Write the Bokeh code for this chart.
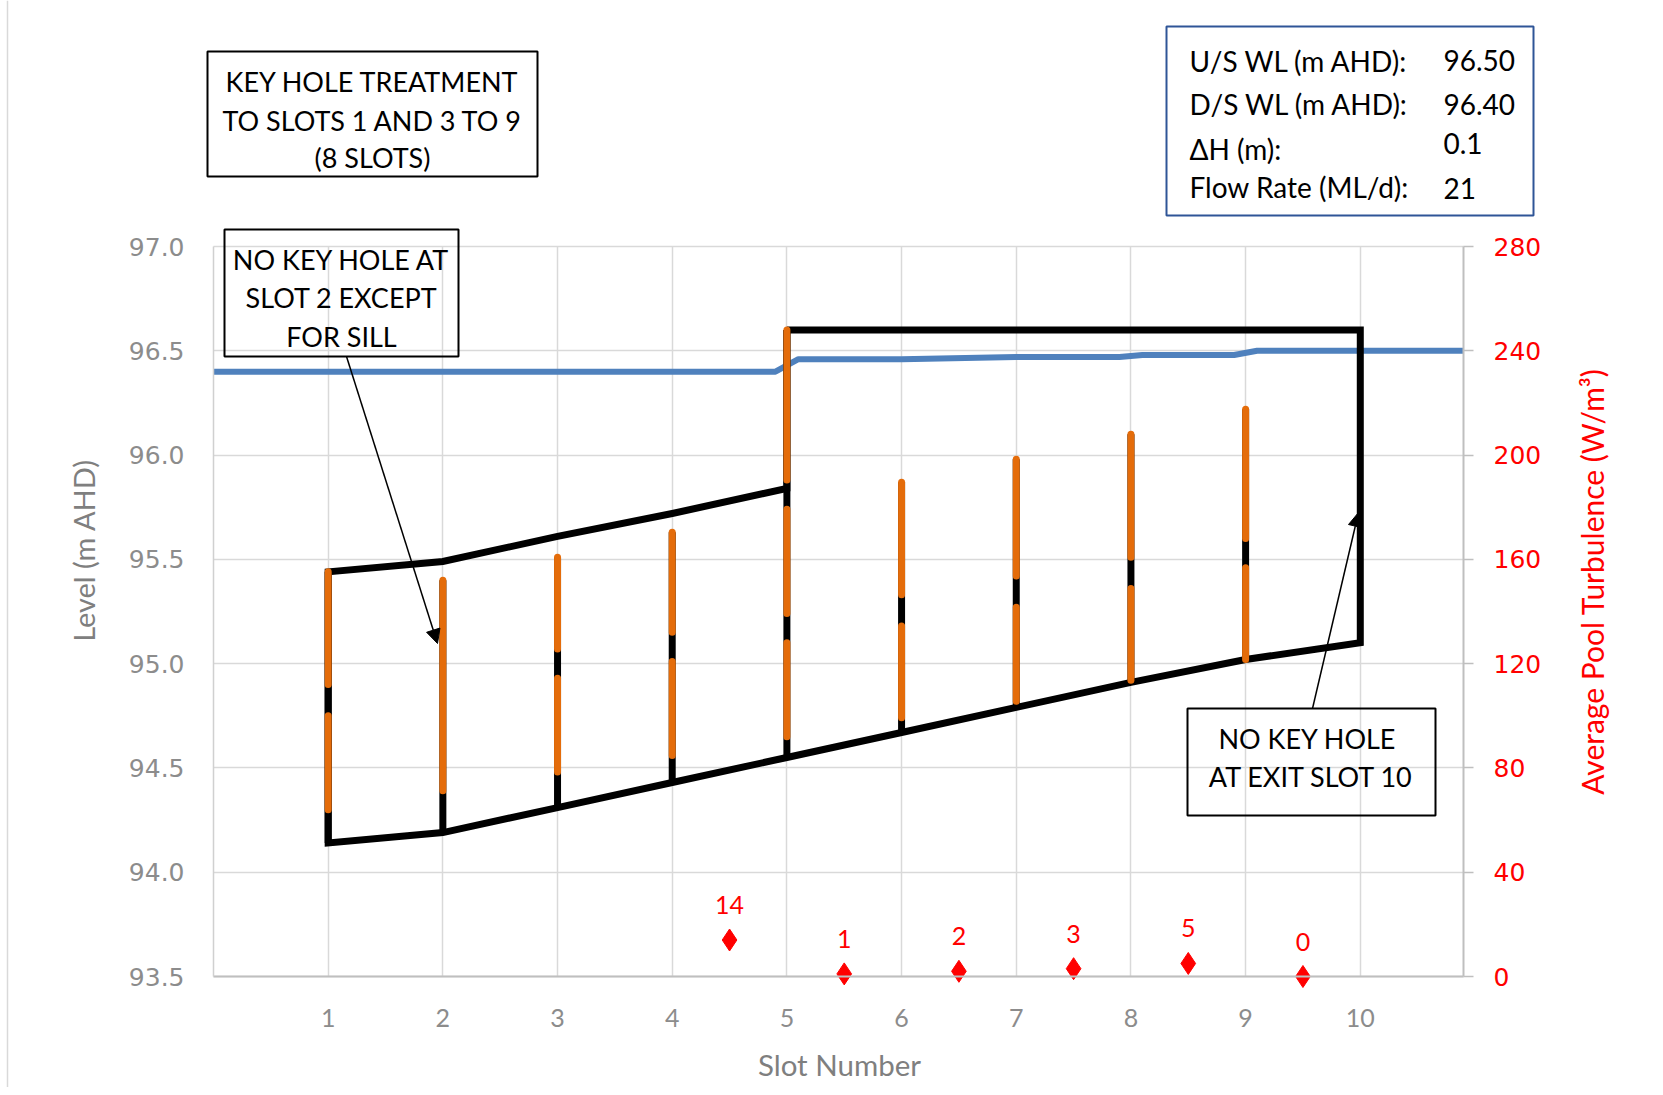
from bokeh.plotting import figure
from bokeh.models import (Range1d, LinearAxis, FixedTicker, NumeralTickFormatter,
                          Label, BoxAnnotation, Arrow, NormalHead, Span)
from bokeh.core.properties import value
from bokeh.embed import file_html
from bokeh.resources import INLINE

# ---------------- data ----------------
slots = [1, 2, 3, 4, 5, 6, 7, 8, 9, 10]
slot_tick_labels = ["1", "2", "3", "4", "5", "6", "7", "8", "9", "10"]
floor_level = [94.14, 94.19, 94.31, 94.43, 94.55, 94.67, 94.79, 94.91, 95.02, 95.10]
crest_x = [1, 2, 3, 4, 5]
crest_level = [95.44, 95.49, 95.61, 95.72, 95.84]
wall_x = [5, 10]
wall_top = [96.60, 96.60]

# orange slot segments (slot, bottom level, top level)
seg_slot = [1, 1, 2, 3, 3, 4, 4, 5, 5, 5, 6, 6, 7, 7, 8, 8, 9, 9]
seg_bottom = [94.30, 94.90, 94.39, 94.48, 95.07, 94.56, 95.15, 94.65, 95.24, 95.88,
              94.74, 95.33, 94.82, 95.42, 94.92, 95.51, 95.02, 95.60]
seg_top = [94.75, 95.44, 95.40, 94.93, 95.51, 95.01, 95.63, 95.10, 95.74, 96.60,
           95.18, 95.87, 95.27, 95.98, 95.36, 96.10, 95.46, 96.22]

# water surface level
wl_x = [0, 4.9, 5.1, 6.0, 7.0, 7.9, 8.1, 8.9, 9.1, 10.9]
wl_level = [96.40, 96.40, 96.46, 96.46, 96.47, 96.47, 96.48, 96.48, 96.50, 96.50]

# average pool turbulence
pool_x = [4.5, 5.5, 6.5, 7.5, 8.5, 9.5]
pool_turb = [14, 1, 2, 3, 5, 0]

level_ticks = [93.5, 94.0, 94.5, 95.0, 95.5, 96.0, 96.5, 97.0]
turb_ticks = [0, 40, 80, 120, 160, 200, 240, 280]

# ---------------- layout constants (pixels) ----------------
W, H = 1655, 1087            # canvas
PL, PR, PT, PB = 213, 1463, 246, 976   # plot area edges
X0, X1, Y0, Y1 = 0, 10.9, 93.5, 97.0
T0, T1 = 0, 280
SX = (PR - PL) / (X1 - X0)
SY = (PB - PT) / (Y1 - Y0)
ST = (PB - PT) / (T1 - T0)


def dx(px):
    return X0 + (px - PL) / SX


def dy(py):
    return Y0 + (PB - py) / SY


GRAY = "#8c8c8c"
RED = "#ff0000"
ORANGE = "#e46c0a"
BLUE = "#4f81bd"

p = figure(frame_width=W, frame_height=H,
           x_range=Range1d(dx(0), dx(W)), y_range=Range1d(dy(H), dy(0)),
           output_backend="svg", toolbar_location=None,
           min_border=0, min_border_left=0, min_border_right=0,
           min_border_top=0, min_border_bottom=0)
p.outline_line_color = None
p.background_fill_color = "white"
p.border_fill_color = "white"
p.extra_y_ranges = {"turb": Range1d(T0 - (H - PB) / ST, T1 + PT / ST)}

# chart-area border (left edge)
p.add_layout(Span(location=dx(7), dimension="height", line_color="#d9d9d9", line_width=1.5))

# axes (drawn at the plot-area edges)
xa = p.xaxis[0]
xa.fixed_location = Y0
xa.bounds = (X0, X1)
xa.ticker = FixedTicker(ticks=slots)
xa.major_label_overrides = {s: t for s, t in zip(slots, slot_tick_labels)}
xa.major_tick_out = 0
xa.major_tick_in = 0
xa.minor_tick_out = 0
xa.minor_tick_in = 0
xa.axis_line_color = "#bfbfbf"
xa.axis_line_width = 2
xa.major_label_text_font = "Lato"
xa.major_label_text_font_size = "25px"
xa.major_label_text_color = GRAY
xa.major_label_standoff = 32

ya = p.yaxis[0]
ya.fixed_location = X0
ya.bounds = (Y0, Y1)
ya.ticker = FixedTicker(ticks=level_ticks)
ya.formatter = NumeralTickFormatter(format="0.0")
ya.major_tick_out = 0
ya.major_tick_in = 0
ya.minor_tick_out = 0
ya.minor_tick_in = 0
ya.axis_line_color = "#d0d0d0"
ya.axis_line_width = 1.5
ya.major_label_text_font = "DejaVu Sans"
ya.major_label_text_font_size = "25px"
ya.major_label_text_color = GRAY
ya.major_label_standoff = 29

raxis = LinearAxis(y_range_name="turb", ticker=FixedTicker(ticks=turb_ticks),
                   fixed_location=X1, bounds=(T0, T1))
raxis.major_tick_out = 10
raxis.major_tick_in = 0
raxis.minor_tick_out = 0
raxis.minor_tick_in = 0
raxis.major_tick_line_color = "#bfbfbf"
raxis.major_tick_line_width = 1.5
raxis.axis_line_color = "#bfbfbf"
raxis.axis_line_width = 2
raxis.major_label_text_font = "DejaVu Sans"
raxis.major_label_text_font_size = "25px"
raxis.major_label_text_color = RED
raxis.major_label_standoff = 20
p.add_layout(raxis, "right")

p.xgrid.grid_line_color = "#d9d9d9"
p.xgrid.grid_line_width = 1.5
p.xgrid.bounds = (X0, X1)
p.xgrid.cross_bounds = (Y0, Y1)
p.ygrid.grid_line_color = "#d9d9d9"
p.ygrid.grid_line_width = 1.5
p.ygrid.bounds = (Y0, Y1)
p.ygrid.cross_bounds = (X0, X1)

# water surface
p.line(wl_x, wl_level, line_color=BLUE, line_width=6)

# black slot verticals (floor up to top of slot)
slot_top = {}
for s, t in zip(seg_slot, seg_top):
    slot_top[s] = max(slot_top.get(s, 0), t)
vx = [s for s in slots if s in slot_top]
v_bottom = [floor_level[slots.index(s)] for s in vx]
v_top = [slot_top[s] for s in vx]
p.segment(x0=vx, y0=v_bottom, x1=vx, y1=v_top, line_color="black", line_width=7)

# black outline
out_x = wall_x + slots[::-1] + crest_x + [wall_x[0]]
out_y = wall_top + floor_level[::-1] + crest_level + [wall_top[0]]
p.line(out_x, out_y, line_color="black", line_width=7, line_join="miter")

# orange slot openings
p.segment(x0=seg_slot, y0=seg_bottom, x1=seg_slot, y1=seg_top,
          line_color=ORANGE, line_width=7, line_cap="round")

# pool turbulence
p.scatter(pool_x, pool_turb, y_range_name="turb", marker="diamond", size=22,
          fill_color=RED, line_color=RED)
p.text(pool_x, pool_turb, text=[str(v) for v in pool_turb], y_range_name="turb",
       y_offset=-35, text_align="center", text_baseline="middle",
       text_color=RED, text_font=value("Lato"), text_font_size="25px")


# annotation boxes
def box(l, r, t, b, color="black", width=2):
    p.add_layout(BoxAnnotation(left=dx(l), right=dx(r), top=dy(t), bottom=dy(b),
                               fill_color="white", fill_alpha=0.0, line_color=color,
                               line_width=width, line_alpha=1.0))


def txt(x, y, s, align="center", color="black", size="27px", angle=0, font="Lato"):
    p.add_layout(Label(x=dx(x), y=dy(y), text=s, text_align=align, text_baseline="middle",
                       text_color=color, text_font=font, text_font_size=size,
                       angle=angle, angle_units="deg"))


box(207, 537, 51, 176)
txt(372, 81, "KEY HOLE TREATMENT")
txt(372, 120, "TO SLOTS 1 AND 3 TO 9")
txt(372, 157, "(8 SLOTS)")

box(224, 458, 229, 356)
txt(341, 259, "NO KEY HOLE AT")
txt(341, 297, "SLOT 2 EXCEPT")
txt(341, 336, "FOR SILL")

box(1187, 1435, 708, 815)
txt(1307, 738, "NO KEY HOLE")
txt(1311, 776, "AT EXIT SLOT 10")

box(1166, 1533, 26, 215, color="#2f5597", width=2)
txt(1189, 60, "U/S WL (m AHD):", align="left", size="28px")
txt(1189, 103, "D/S WL (m AHD):", align="left", size="28px")
txt(1189, 148, "\u0394H (m):", align="left", size="28px")
txt(1189, 186, "Flow Rate (ML/d):", align="left", size="28px")
txt(1443, 60, "96.50", align="left", size="28px")
txt(1443, 104, "96.40", align="left", size="28px")
txt(1443, 143, "0.1", align="left", size="28px")
txt(1443, 188, "21", align="left", size="28px")

# arrows
p.add_layout(Arrow(end=NormalHead(size=14, fill_color="black", line_color="black"),
                   x_start=dx(346), y_start=dy(356), x_end=dx(437), y_end=dy(643),
                   line_color="black", line_width=1.5))
p.add_layout(Arrow(end=NormalHead(size=14, fill_color="black", line_color="black"),
                   x_start=dx(1312), y_start=dy(708), x_end=dx(1358), y_end=dy(512),
                   line_color="black", line_width=1.5))

# axis titles
txt(83, 550, "Level (m AHD)", color="#7f7f7f", size="29px", angle=90)
txt(1591, 581, "Average Pool Turbulence (W/m\u00b3)", color=RED, size="30px", angle=90)
txt(839, 1064, "Slot Number", color="#7f7f7f", size="29.5px")

open("out.html", "w").write(file_html(p, INLINE))
